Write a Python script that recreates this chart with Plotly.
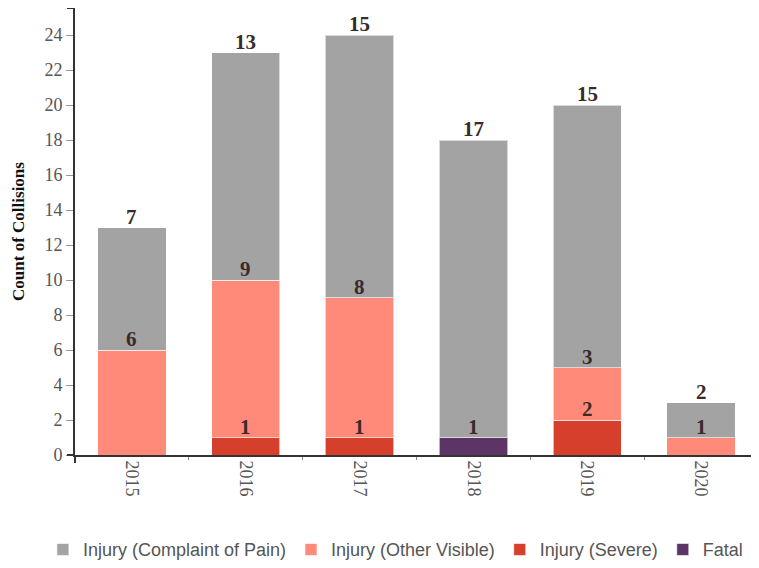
import plotly.graph_objects as go

years = ["2015", "2016", "2017", "2018", "2019", "2020"]
fatal = [0, 0, 0, 1, 0, 0]
severe = [0, 1, 1, 0, 2, 0]
other_visible = [6, 9, 8, 0, 3, 1]
complaint_pain = [7, 13, 15, 17, 15, 2]

series = [
    ("Fatal", fatal, "#5c3566"),
    ("Injury (Severe)", severe, "#d63f2b"),
    ("Injury (Other Visible)", other_visible, "#ff8a7a"),
    ("Injury (Complaint of Pain)", complaint_pain, "#a3a3a3"),
]

fig = go.Figure()
for name, vals, color in series:
    fig.add_trace(go.Bar(
        x=years, y=vals, name=name,
        marker=dict(color=color, line=dict(color="rgba(255,255,255,0.6)", width=1)),
        width=0.6,
    ))

# labels at the top of each segment
cum = [0] * len(years)
for name, vals, color in series:
    for i, v in enumerate(vals):
        if v > 0:
            cum[i] += v
            fig.add_annotation(
                x=i, y=cum[i], xref="x", yref="y",
                text=f"<b>{v}</b>", showarrow=False,
                yanchor="bottom", yshift=-3,
                font=dict(family="Liberation Serif", size=21, color="#3a2b2b"),
            )

# axis line extensions / outer ticks (d3-style domain path)
axis_col = "#333"
PW, PH = 683, 447
fig.add_shape(type="line", xref="paper", yref="paper", x0=-8/PW, x1=0, y0=1, y1=1,
              line=dict(color=axis_col, width=2))
fig.add_shape(type="line", xref="paper", yref="paper", x0=-8/PW, x1=0, y0=0, y1=0,
              line=dict(color=axis_col, width=2))
fig.add_shape(type="line", xref="paper", yref="paper", x0=0, x1=0, y0=0, y1=-8/PH,
              line=dict(color=axis_col, width=2))
fig.add_shape(type="line", xref="paper", yref="paper", x0=1, x1=1, y0=0, y1=-8/PH,
              line=dict(color=axis_col, width=2))

fig.update_layout(
    barmode="stack",
    width=751, height=560,
    margin=dict(l=67, r=1, t=0, b=113, autoexpand=False),
    plot_bgcolor="white", paper_bgcolor="white",
    legend=dict(
        orientation="h", x=-0.047, xanchor="left", y=-0.212, yanchor="middle",
        traceorder="reversed",
        font=dict(family="Liberation Sans", size=18, color="#555"),
        itemwidth=30,
    ),
    xaxis=dict(
        type="category", tickangle=90, showgrid=False,
        range=[-0.5, 5.5],
        showline=True, linecolor=axis_col, linewidth=2,
        ticks="outside", ticklen=3, tickcolor="#888", tickson="boundaries",
        tickfont=dict(family="Liberation Serif", size=18, color="#555"),
    ),
    yaxis=dict(
        range=[0, 25.55], dtick=2, showgrid=False, zeroline=False,
        showline=True, linecolor=axis_col, linewidth=2,
        ticks="outside", ticklen=7, tickcolor="#999", tickwidth=1,
        tickfont=dict(family="Liberation Serif", size=18, color="#555"),
        title=dict(text="<b>Count of Collisions</b>", standoff=15,
                   font=dict(family="Liberation Serif", size=17, color="#111")),
    ),
    showlegend=True,
)

fig.write_html("out.html")
